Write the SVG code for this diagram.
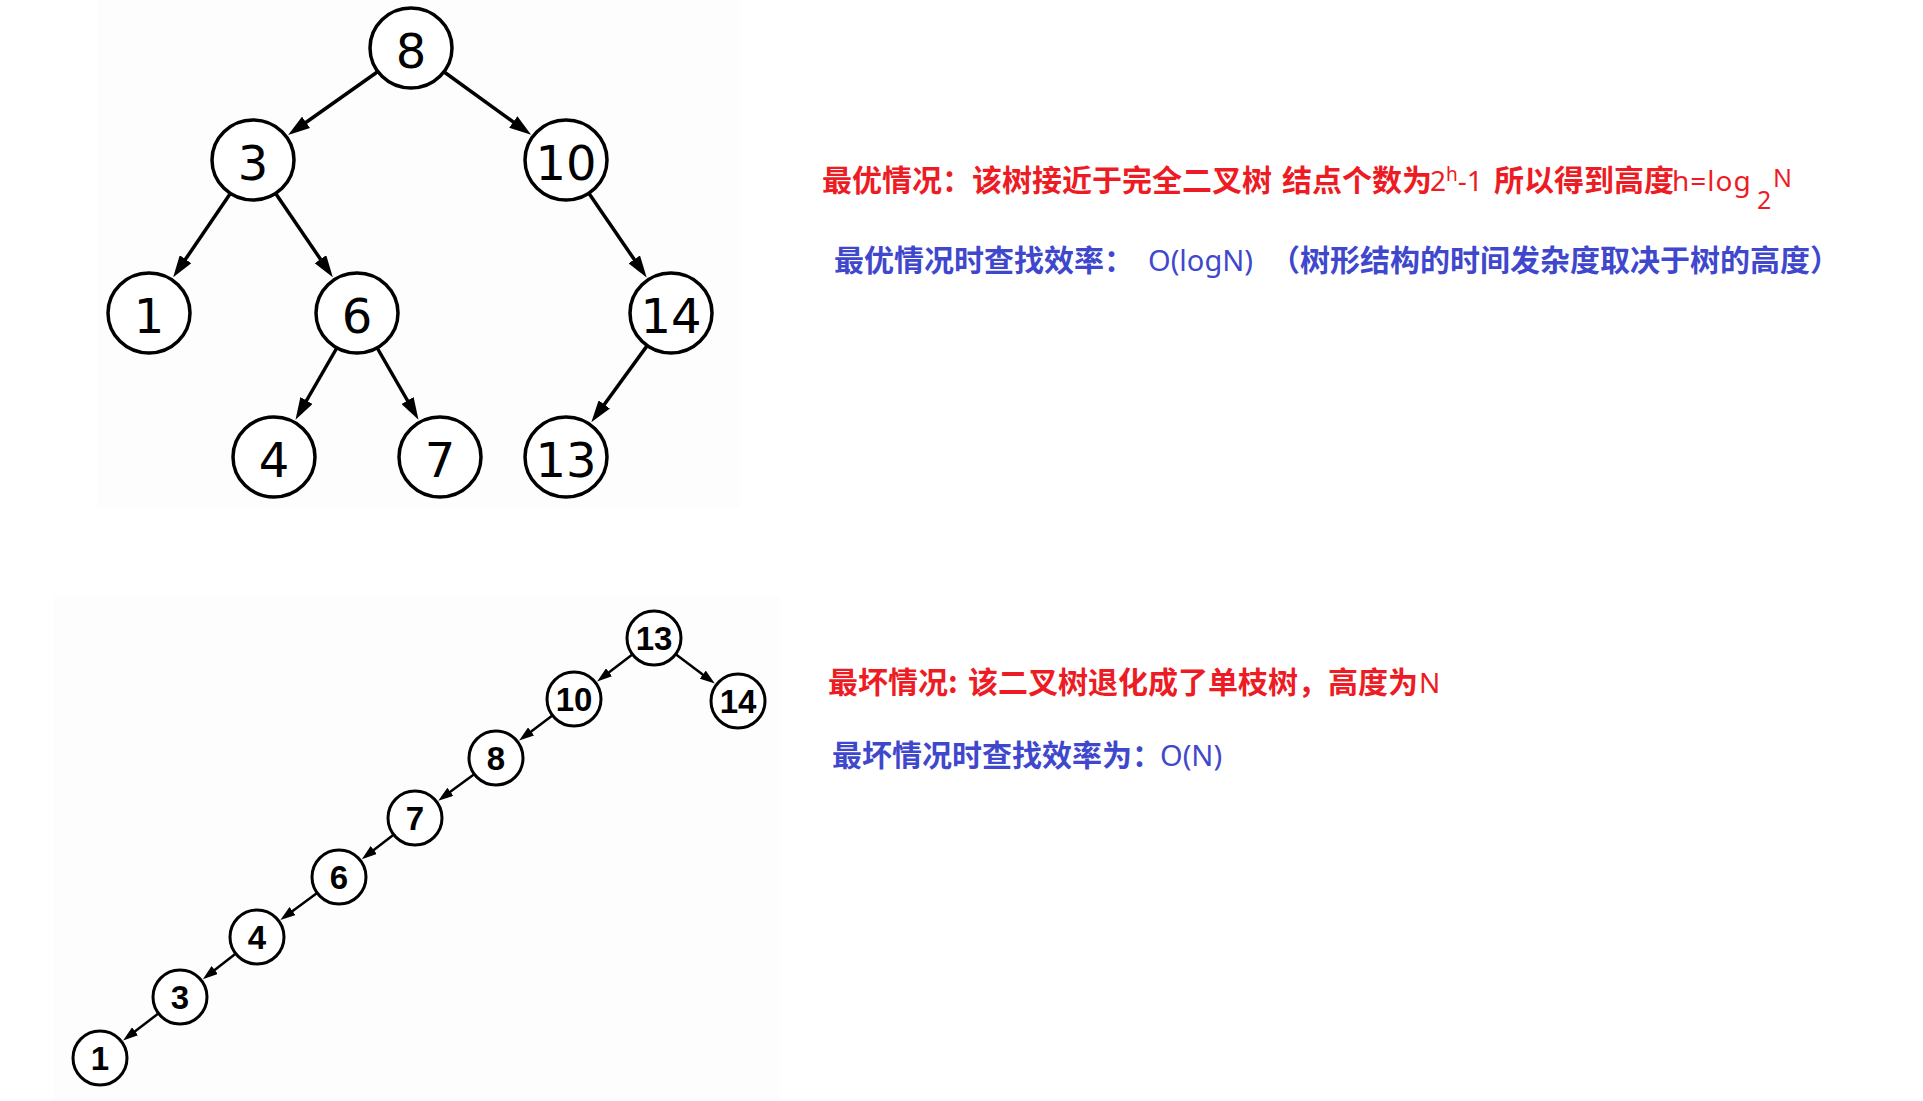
<svg xmlns="http://www.w3.org/2000/svg" width="1923" height="1101" viewBox="0 0 1923 1101">
<style>
.bg{fill:#fdfdfd}
.n1 ellipse{fill:#fff;stroke:#000;stroke-width:3.5}
.n1 text{font-family:"DejaVu Sans",sans-serif;font-size:48px;text-anchor:middle;fill:#000}
.n2 circle{fill:#fff;stroke:#000;stroke-width:3}
.n2 text{font-family:"Liberation Sans",Arial,sans-serif;font-weight:bold;font-size:33px;text-anchor:middle;fill:#000}
.e1{stroke:#000;stroke-width:3.5;fill:none;marker-end:url(#ah1)}
.e2{stroke:#000;stroke-width:2.5;fill:none;marker-end:url(#ah2)}
.red{fill:#ED1C24}
.blue{fill:#3F48CC}
.cjk{font-family:"Noto Sans CJK SC","Microsoft YaHei",sans-serif;font-weight:bold;font-size:30px}
.lat{font-family:"Noto Sans","Open Sans",sans-serif;font-weight:normal;font-size:28px}
.lat2{font-family:"Noto Sans","Open Sans",sans-serif;font-weight:normal;font-size:29px}
.sup{font-family:"Noto Sans","Open Sans",sans-serif;font-weight:normal;font-size:19px}
.sub{font-family:"Noto Sans","Open Sans",sans-serif;font-weight:normal;font-size:25px}
</style>
<defs>
<marker id="ah1" markerUnits="userSpaceOnUse" viewBox="0 0 22 14" refX="12" refY="7" markerWidth="22" markerHeight="14" orient="auto"><path d="M0,0 L22,7 L0,14 Z" fill="#000"/></marker>
<marker id="ah2" markerUnits="userSpaceOnUse" viewBox="0 0 15 10" refX="9" refY="5" markerWidth="15" markerHeight="10" orient="auto"><path d="M0,0 L15,5 L0,10 Z" fill="#000"/></marker>
</defs>
<rect x="0" y="0" width="1923" height="1101" fill="#fff"/>
<rect class="bg" x="97" y="0" width="643" height="508"/>
<rect class="bg" x="53" y="597" width="727" height="504"/>

<g id="connectors">
<line class="e1" x1="377.6" y1="71.7" x2="296.3" y2="129.3"/>
<line class="e1" x1="444.2" y1="72.0" x2="523.0" y2="129.0"/>
<line class="e1" x1="230.0" y1="193.9" x2="178.8" y2="269.1"/>
<line class="e1" x1="276.0" y1="193.9" x2="327.2" y2="269.1"/>
<line class="e1" x1="589.2" y1="193.8" x2="641.0" y2="269.3"/>
<line class="e1" x1="336.5" y1="348.5" x2="300.5" y2="411.0"/>
<line class="e1" x1="377.5" y1="348.5" x2="413.5" y2="411.0"/>
<line class="e1" x1="646.8" y1="346.1" x2="597.2" y2="414.2"/>

<line class="e2" x1="631.7" y1="655.0" x2="601.9" y2="677.8"/>
<line class="e2" x1="676.4" y1="654.8" x2="710.0" y2="680.0"/>
<line class="e2" x1="551.7" y1="715.9" x2="523.9" y2="736.9"/>
<line class="e2" x1="473.5" y1="774.7" x2="443.1" y2="797.1"/>
<line class="e2" x1="392.9" y1="835.2" x2="366.6" y2="855.5"/>
<line class="e2" x1="316.4" y1="893.5" x2="285.2" y2="916.4"/>
<line class="e2" x1="234.9" y1="954.2" x2="207.6" y2="975.5"/>
<line class="e2" x1="157.7" y1="1014.0" x2="127.9" y2="1036.8"/>
</g>

<g id="t1-8" class="n1"><ellipse cx="411" cy="48" rx="41" ry="40"/><text x="411" y="68">8</text></g>
<g id="t1-3" class="n1"><ellipse cx="253" cy="160" rx="41" ry="40"/><text x="253" y="180">3</text></g>
<g id="t1-10" class="n1"><ellipse cx="566" cy="160" rx="41" ry="40"/><text x="566" y="180">10</text></g>
<g id="t1-1" class="n1"><ellipse cx="149" cy="313" rx="41" ry="40"/><text x="149" y="333">1</text></g>
<g id="t1-6" class="n1"><ellipse cx="357" cy="313" rx="41" ry="40"/><text x="357" y="333">6</text></g>
<g id="t1-14" class="n1"><ellipse cx="671" cy="313" rx="41" ry="40"/><text x="671" y="333">14</text></g>
<g id="t1-4" class="n1"><ellipse cx="274" cy="457" rx="41" ry="40"/><text x="274" y="477">4</text></g>
<g id="t1-7" class="n1"><ellipse cx="440" cy="457" rx="41" ry="40"/><text x="440" y="477">7</text></g>
<g id="t1-13" class="n1"><ellipse cx="566" cy="457" rx="41" ry="40"/><text x="566" y="477">13</text></g>

<g id="t2-13" class="n2"><circle cx="654" cy="638" r="27"/><text x="654" y="650">13</text></g>
<g id="t2-10" class="n2"><circle cx="574" cy="699" r="27"/><text x="574" y="711">10</text></g>
<g id="t2-14" class="n2"><circle cx="738" cy="701" r="27"/><text x="738" y="713">14</text></g>
<g id="t2-8" class="n2"><circle cx="496" cy="758" r="27"/><text x="496" y="770">8</text></g>
<g id="t2-7" class="n2"><circle cx="415" cy="818" r="27"/><text x="415" y="830">7</text></g>
<g id="t2-6" class="n2"><circle cx="339" cy="877" r="27"/><text x="339" y="889">6</text></g>
<g id="t2-4" class="n2"><circle cx="257" cy="937" r="27"/><text x="257" y="949">4</text></g>
<g id="t2-3" class="n2"><circle cx="180" cy="997" r="27"/><text x="180" y="1009">3</text></g>
<g id="t2-1" class="n2"><circle cx="100" cy="1058" r="27"/><text x="100" y="1070">1</text></g>

<g id="notes">
<text class="red" y="191"><tspan class="cjk" x="822">最优情况：该树接近于完全二叉树</tspan><tspan class="cjk" x="1282">结点个数为</tspan><tspan class="lat" x="1430">2</tspan><tspan class="sup" y="181">h</tspan><tspan class="lat" y="191">-1</tspan><tspan class="cjk" x="1494">所以得到高度</tspan><tspan class="lat" x="1672" letter-spacing="1">h=log</tspan><tspan class="sub" x="1757" y="209">2</tspan><tspan class="sub" x="1773" y="187">N</tspan></text>
<text class="blue" y="271"><tspan class="cjk" x="834">最优情况时查找效率：</tspan><tspan class="lat2" x="1148">O(logN)</tspan><tspan class="cjk" x="1270">（树形结构的时间发杂度取决于树的高度）</tspan></text>
<text class="red" y="693"><tspan class="cjk" x="828">最坏情况:</tspan><tspan class="cjk" x="968">该二叉树退化成了单枝树，高度为</tspan><tspan class="lat" x="1419">N</tspan></text>
<text class="blue" y="766"><tspan class="cjk" x="832">最坏情况时查找效率为：</tspan><tspan class="lat2" x="1160">O(N)</tspan></text>
</g>
</svg>
